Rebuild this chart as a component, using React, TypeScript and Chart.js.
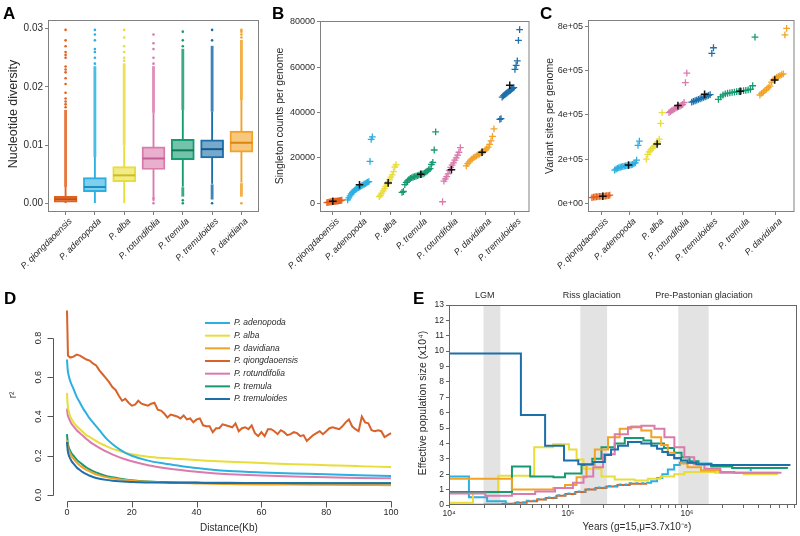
import React, { useEffect, useRef } from "react";
import { Chart, registerables } from "chart.js";

Chart.register(...registerables);

const FONT = '"Liberation Sans", Arial, Helvetica, sans-serif';
const TEXT = "#2a2a2a";
const FRAME = "#808080";
Chart.defaults.font.family = FONT;
Chart.defaults.color = TEXT;

// species colours
const C_QIONG = "#E3611E";
const C_QIONG_LD = "#D9622A";
const C_ADENO = "#2BB0E1";
const C_ALBA = "#E8DD3A";
const C_ROTUN = "#DA7BAD";
const C_TREMULA = "#169A71";
const C_TREMULOIDES = "#1D6FAA";
const C_DAVID = "#F2A227";

// ---------------- Panel A : nucleotide diversity ----------------
const diversitySpecies = ["P. qiongdaoensis", "P. adenopoda", "P. alba", "P. rotundifolia", "P. tremula", "P. tremuloides", "P. davidiana"];
const diversityColors = [C_QIONG, C_ADENO, C_ALBA, C_ROTUN, C_TREMULA, C_TREMULOIDES, C_DAVID];
const diversityMedianColors = ["#C84E10", "#1C8DBF", "#CBBE1E", "#C25E95", "#0D7A55", "#145A8C", "#DA860E"];
const diversityQ1 = [0.0002, 0.002, 0.0037, 0.0058, 0.0075, 0.0078, 0.0088];
const diversityMedian = [0.0007, 0.0028, 0.0048, 0.0077, 0.0091, 0.0093, 0.0104];
const diversityQ3 = [0.0012, 0.0044, 0.0063, 0.0097, 0.011, 0.0109, 0.0124];
const diversityWhiskerLow = [0.0, 0.0, 0.0, 0.0004, 0.0029, 0.0034, 0.0036];
const diversityWhiskerHigh = [0.0027, 0.0079, 0.0099, 0.0155, 0.016, 0.0157, 0.0177];
const diversityHighOutlierRange = [[0.0028, 0.016], [0.008, 0.0235], [0.01, 0.024], [0.0156, 0.0235], [0.0161, 0.0265], [0.0158, 0.027], [0.0178, 0.028]];
const diversityLowOutlierRange = [null, null, null, null, [0.0012, 0.0027], [0.0007, 0.0032], [0.0012, 0.0034]];
const diversityOutlierPoints = [
  [0.0165, 0.017, 0.0175, 0.018, 0.019, 0.0205, 0.0215, 0.0225, 0.023, 0.0235, 0.025, 0.0255, 0.026, 0.027, 0.028, 0.0298],
  [0.024, 0.025, 0.026, 0.0265, 0.028, 0.029, 0.0298],
  [0.0245, 0.025, 0.026, 0.027, 0.0285, 0.0298],
  [0.0, 0.0008, 0.024, 0.025, 0.0265, 0.0275, 0.029],
  [0.0, 0.0005, 0.027, 0.028, 0.0295],
  [0.0, 0.028, 0.0298],
  [0.0, 0.0285, 0.029, 0.0295, 0.0298],
];
const diversityTicks = [0, 0.01, 0.02, 0.03];

// ---------------- Panel B : singletons ----------------
const singletonSpecies = ["P. qiongdaoensis", "P. adenopoda", "P. alba", "P. tremula", "P. rotundifolia", "P. davidiana", "P. tremuloides"];
const singletonColors = [C_QIONG, C_ADENO, C_ALBA, C_TREMULA, C_ROTUN, C_DAVID, C_TREMULOIDES];
const singletonQiongdaoensis = [300, 450, 550, 650, 700, 760, 820, 870, 920, 970, 1020, 1080, 1150, 1250, 1400];
const singletonAdenopoda = [1500, 2400, 3300, 4100, 4800, 5300, 5800, 6200, 6600, 6900, 7200, 7500, 7800, 8100, 8400, 8700, 9000, 9300, 9600, 18500, 28200, 29300];
const singletonAlba = [3000, 3600, 4500, 5500, 6500, 7500, 8500, 9500, 10500, 11500, 12500, 14000, 16000, 17000];
const singletonTremula = [4800, 5200, 8200, 9200, 9900, 10500, 11000, 11300, 11600, 11800, 12000, 12200, 12400, 12600, 12800, 13000, 13300, 13700, 14200, 14800, 15300, 17200, 18000, 23500, 31500];
const singletonRotundifolia = [700, 9800, 10800, 11800, 13000, 14500, 15800, 16800, 17800, 19000, 20000, 21200, 22500, 24500];
const singletonDavidiana = [16500, 17500, 18300, 19000, 19600, 20100, 20500, 20900, 21300, 21700, 22100, 22500, 22900, 23400, 24000, 24800, 26000, 27500, 29500, 32800];
const singletonTremuloides = [37000, 37300, 46800, 47300, 47800, 48200, 48600, 49000, 49400, 49800, 50200, 50600, 51000, 59000, 60800, 62800, 71800, 76500];
const singletonMeans = [900, 8200, 9000, 12800, 14800, 22500, 52000];
const singletonTicks = [0, 20000, 40000, 60000, 80000];
// layout along the sample axis (px from panel frame)
const singletonTickX = [13, 41, 71, 102, 133, 167, 197];
const singletonSpanX = [[7, 22], [28, 53], [60, 77], [83, 117], [124, 142], [148, 176], [182, 202]];
const singletonMeanX = [13, 40, 69, 102, 133, 164, 192];

// ---------------- Panel C : variant sites ----------------
const variantSpecies = ["P. qiongdaoensis", "P. adenopoda", "P. alba", "P. rotundifolia", "P. tremuloides", "P. tremula", "P. davidiana"];
const variantColors = [C_QIONG, C_ADENO, C_ALBA, C_ROTUN, C_TREMULOIDES, C_TREMULA, C_DAVID];
const variantQiongdaoensis = [26000, 27500, 28500, 29500, 30500, 31000, 31500, 32000, 32500, 33000, 34000, 35000, 36500];
const variantAdenopoda = [150000, 155000, 158000, 161000, 163000, 165000, 166500, 168000, 169000, 170000, 171000, 172500, 174000, 176000, 179000, 183000, 195000, 262000, 281000];
const variantAlba = [200000, 221000, 233000, 241000, 248000, 255000, 262000, 270000, 278000, 290000, 362000, 410000];
const variantRotundifolia = [410000, 415000, 419000, 423000, 427000, 431000, 434000, 437000, 440000, 443000, 447000, 456000, 546000, 589000];
const variantTremuloides = [458000, 461000, 464000, 467000, 470000, 473000, 476000, 479000, 482000, 485000, 488000, 492000, 678000, 704000];
const variantTremula = [470000, 482000, 490000, 495000, 498000, 500000, 502000, 503500, 505000, 506500, 508000, 509500, 511000, 513000, 516000, 532000, 752000];
const variantDavidiana = [490000, 497000, 503000, 510000, 517000, 523000, 530000, 548000, 558000, 565000, 570000, 574000, 578000, 582000, 586000, 762000, 792000];
const variantMeans = [32000, 173000, 268000, 442000, 493000, 507000, 558000];
const variantTicks = [0, 200000, 400000, 600000, 800000];
const variantTickLabels = ["0e+00", "2e+05", "4e+05", "6e+05", "8e+05"];
const variantTickX = [14, 42, 70, 96, 125, 157, 190];
const variantSpanX = [[4, 22], [27, 52], [59, 75], [82, 100], [105, 127], [132, 169], [174, 201]];
const variantMeanX = [15, 41, 70, 91, 118, 154, 189];

// ---------------- Panel D : LD decay ----------------
const ldDistanceKb = [0, 0.2, 0.5, 1, 1.5, 2, 3, 4, 5, 6, 7, 8, 10, 12, 14, 16, 18, 20, 25, 30, 35, 40, 45, 50, 60, 70, 80, 90, 100];
const ldAdenopoda = [0.69, 0.64, 0.61, 0.58, 0.56, 0.54, 0.5, 0.47, 0.44, 0.415, 0.39, 0.37, 0.33, 0.29, 0.26, 0.235, 0.215, 0.2, 0.175, 0.16, 0.148, 0.137, 0.128, 0.122, 0.115, 0.11, 0.106, 0.1, 0.097];
const ldAlba = [0.52, 0.46, 0.43, 0.4, 0.385, 0.37, 0.35, 0.335, 0.32, 0.305, 0.295, 0.285, 0.265, 0.25, 0.235, 0.225, 0.215, 0.207, 0.195, 0.188, 0.183, 0.178, 0.173, 0.169, 0.163, 0.157, 0.152, 0.147, 0.142];
const ldDavidiana = [0.28, 0.25, 0.23, 0.21, 0.195, 0.185, 0.165, 0.15, 0.138, 0.128, 0.12, 0.112, 0.1, 0.091, 0.085, 0.08, 0.076, 0.073, 0.068, 0.064, 0.061, 0.059, 0.057, 0.056, 0.054, 0.053, 0.052, 0.051, 0.05];
const ldRotundifolia = [0.44, 0.41, 0.395, 0.375, 0.36, 0.35, 0.33, 0.315, 0.3, 0.285, 0.272, 0.26, 0.24, 0.222, 0.207, 0.193, 0.182, 0.172, 0.152, 0.138, 0.127, 0.118, 0.111, 0.106, 0.099, 0.094, 0.09, 0.087, 0.085];
const ldTremula = [0.31, 0.27, 0.245, 0.225, 0.21, 0.2, 0.18, 0.165, 0.152, 0.14, 0.13, 0.122, 0.108, 0.097, 0.09, 0.084, 0.079, 0.075, 0.069, 0.066, 0.064, 0.063, 0.062, 0.062, 0.061, 0.061, 0.06, 0.06, 0.06];
const ldTremuloides = [0.27, 0.23, 0.205, 0.185, 0.17, 0.16, 0.14, 0.127, 0.115, 0.106, 0.098, 0.092, 0.083, 0.077, 0.073, 0.07, 0.068, 0.066, 0.064, 0.063, 0.062, 0.062, 0.061, 0.061, 0.061, 0.06, 0.06, 0.06, 0.06];
const ldQiongDistanceKb = [0, 0.3, ...Array.from({ length: 100 }, (_, i) => i + 1)];
const ldQiongdaoensis = [
  0.94, 0.71,
  0.7, 0.705, 0.715, 0.71, 0.7, 0.69, 0.685, 0.67, 0.66, 0.635,
  0.615, 0.595, 0.575, 0.55, 0.535, 0.505, 0.48, 0.49, 0.47, 0.455,
  0.46, 0.48, 0.465, 0.46, 0.455, 0.465, 0.47, 0.435, 0.43, 0.415,
  0.395, 0.41, 0.405, 0.4, 0.39, 0.405, 0.385, 0.39, 0.37, 0.385,
  0.39, 0.355, 0.35, 0.35, 0.32, 0.34, 0.34, 0.36, 0.355, 0.35,
  0.345, 0.365, 0.325, 0.34, 0.345, 0.335, 0.355, 0.315, 0.3, 0.32,
  0.3, 0.335, 0.335, 0.325, 0.31, 0.33, 0.32, 0.305, 0.31, 0.32,
  0.315, 0.3, 0.305, 0.275, 0.29, 0.305, 0.315, 0.325, 0.31, 0.325,
  0.34, 0.345, 0.34, 0.335, 0.35, 0.37, 0.385, 0.35, 0.335, 0.325,
  0.4, 0.37, 0.365, 0.33, 0.325, 0.33, 0.325, 0.295, 0.305, 0.315,
];
const ldXTicks = [0, 20, 40, 60, 80, 100];
const ldYTicks = [0, 0.2, 0.4, 0.6, 0.8];

// ---------------- Panel E : PSMC ----------------
const psmcTremuloidesYears = [1e4, 40200, 64200, 92600, 122000, 163000, 204000, 230000, 263000, 319000, 413000, 501000, 560000, 620000, 690000, 780000, 890000, 1010000, 1200000, 1600000, 7400000];
const psmcTremuloidesNe = [9.85, 5.85, 3.85, 2.9, 2.65, 2.8, 3.25, 3.6, 3.85, 4.1, 4.0, 3.85, 3.65, 3.45, 3.25, 3.05, 2.9, 2.75, 2.65, 2.6, 2.6];
const psmcAlbaYears = [1e4, 15900, 25800, 52000, 75000, 102000, 118000, 135000, 191000, 247000, 363000, 469000, 600000, 780000, 950000, 1700000, 3000000, 5700000];
const psmcAlbaNe = [0.15, 0.8, 1.9, 3.75, 3.95, 3.6, 2.95, 2.35, 1.85, 1.65, 1.6, 1.7, 1.85, 2.0, 2.15, 2.1, 2.0, 1.95];
const psmcTremulaYears = [1e4, 33800, 48100, 75400, 94400, 130000, 160000, 191000, 247000, 300000, 430000, 500000, 640000, 780000, 900000, 1050000, 1250000, 1600000, 2400000, 6940000];
const psmcTremulaNe = [0.85, 2.5, 1.85, 1.8, 2.05, 2.6, 3.0, 3.75, 4.0, 4.35, 4.2, 4.0, 3.7, 3.4, 3.1, 2.85, 2.65, 2.5, 2.4, 2.35];
const psmcDavidianaYears = [1e4, 33800, 75400, 94400, 118000, 143000, 168000, 217000, 272000, 340000, 413000, 501000, 606000, 689000, 783000, 891000, 1010000, 1310000, 1920000, 5730000];
const psmcDavidianaNe = [1.7, 1.0, 1.1, 1.3, 1.8, 2.6, 3.6, 4.4, 4.95, 5.1, 4.85, 4.4, 3.9, 3.4, 3.0, 2.7, 2.45, 2.25, 2.1, 2.05];
const psmcRotundifoliaYears = [1e4, 20200, 33800, 53000, 77800, 110000, 135000, 163000, 197000, 247000, 319000, 413000, 533000, 646000, 783000, 950000, 1150000, 1400000, 1900000, 2500000, 6110000];
const psmcRotundifoliaNe = [0.75, 0.6, 0.72, 0.88, 1.1, 1.45, 1.85, 2.45, 3.3, 4.6, 5.05, 5.15, 4.95, 4.4, 3.75, 3.1, 2.65, 2.35, 2.15, 2.1, 2.05];
const psmcAdenopodaYears = [1e4, 14700, 20900, 30000, 36000, 45000, 55000, 65000, 80000, 95000, 115000, 140000, 170000, 210000, 260000, 330000, 454000, 500000, 560000, 620000, 690000, 780000, 870000, 1150000, 1600000, 2400000, 3430000];
const psmcAdenopodaNe = [1.85, 0.5, 0.25, 0.08, 0.18, 0.28, 0.38, 0.48, 0.63, 0.75, 0.88, 1.03, 1.13, 1.23, 1.33, 1.41, 1.45, 1.55, 1.75, 2.0, 2.3, 2.6, 2.75, 2.7, 2.55, 2.4, 2.2];
const psmcQiongdaoensisYears = [1e4, 20000, 28000, 36000, 45000, 55000, 65000, 80000, 95000, 115000, 140000, 170000, 210000, 260000, 330000, 454000];
const psmcQiongdaoensisNe = [0.02, 0.04, 0.08, 0.15, 0.25, 0.35, 0.45, 0.6, 0.72, 0.85, 1.0, 1.1, 1.2, 1.3, 1.38, 1.42];
const psmcGlaciationNames = ["LGM", "Riss glaciation", "Pre-Pastonian glaciation"];
const psmcGlaciationStart = [19500, 127000, 845000];
const psmcGlaciationEnd = [27000, 213000, 1520000];
const psmcGlaciationLabelAt = [20000, 158000, 1390000];
const psmcMajorTicks = [1e4, 1e5, 1e6];
const psmcMajorLabels = ["10\u2074", "10\u2075", "10\u2076"];
const psmcMinorMultipliers = [2, 3, 4, 5, 6, 7, 8, 9];
const psmcYTicks = [0, 1, 2, 3, 4, 5, 6, 7, 8, 9, 10, 11, 12, 13];

// ---------------- helpers ----------------
function rgba(hex: string, a: number) {
  const n = parseInt(hex.slice(1), 16);
  return `rgba(${(n >> 16) & 255},${(n >> 8) & 255},${n & 255},${a})`;
}
const axisGrid = { display: true, drawOnChartArea: false, drawTicks: true, tickLength: 3, color: FRAME, lineWidth: 1 };
const tickFont = { family: FONT, size: 9 };
const fixWidth = (w: number) => (s: any) => { s.width = w; s.paddingTop = 0; s.paddingBottom = 0; s.paddingLeft = 0; s.paddingRight = 0; };
const fixHeight = (h: number) => (s: any) => { s.height = h; s.paddingLeft = 0; s.paddingRight = 0; s.paddingTop = 0; s.paddingBottom = 0; };

type Label = { text: string; x: number; y: number; rot?: number; size?: number; italic?: boolean; align?: CanvasTextAlign; color?: string };
function drawLabel(ctx: CanvasRenderingContext2D, l: Label) {
  ctx.save();
  ctx.translate(l.x, l.y);
  if (l.rot) ctx.rotate(l.rot);
  ctx.font = `${l.italic ? "italic " : ""}${l.size ?? 10}px ${FONT}`;
  ctx.fillStyle = l.color ?? TEXT;
  ctx.textAlign = l.align ?? "center";
  ctx.textBaseline = "middle";
  ctx.fillText(l.text, 0, 0);
  ctx.restore();
}
const textPlugin = (labels: Label[]) => ({
  id: "texts",
  afterDraw(chart: any) { labels.forEach((l) => drawLabel(chart.ctx, l)); },
});
const framePlugin = (color: string) => ({
  id: "frame",
  afterDatasetsDraw(chart: any) {
    const { ctx, chartArea: a } = chart;
    ctx.save();
    ctx.strokeStyle = color;
    ctx.lineWidth = 1;
    ctx.strokeRect(a.left + 0.5, a.top + 0.5, a.right - a.left - 1, a.bottom - a.top - 1);
    ctx.restore();
  },
});
const baseOptions = {
  animation: false,
  responsive: false,
  maintainAspectRatio: false,
  devicePixelRatio: 1,
  events: [],
  plugins: { legend: { display: false }, tooltip: { enabled: false } },
};

// ---------------- builders ----------------
function buildDiversity() {
  const idx = diversitySpecies.map((_, i) => i);
  const datasets: any[] = [];
  diversityOutlierPoints.forEach((vals, i) => {
    datasets.push({
      type: "line", showLine: false, data: vals.map((v) => ({ x: i, y: v })),
      pointRadius: 1.3, pointBorderWidth: 0, pointBackgroundColor: diversityColors[i], order: 0,
    });
  });
  const rangeSet = (ranges: any[], thick: number, order: number, alpha: number) => ({
    type: "bar",
    data: ranges.map((r, i) => (r ? { x: i, y: r } : null)).filter(Boolean),
    backgroundColor: (c: any) => rgba(diversityColors[c.raw ? c.raw.x : 0], alpha),
    borderWidth: 0, barThickness: thick, grouped: false, order,
  });
  datasets.push(rangeSet(diversityHighOutlierRange, 2.2, 0, 0.85));
  datasets.push(rangeSet(diversityLowOutlierRange, 2.2, 0, 0.85));
  datasets.push(rangeSet(idx.map((i) => [diversityWhiskerLow[i], diversityQ1[i]]), 1.2, 2, 1));
  datasets.push(rangeSet(idx.map((i) => [diversityQ3[i], diversityWhiskerHigh[i]]), 1.2, 2, 1));
  datasets.push({
    type: "bar",
    data: idx.map((i) => ({ x: i, y: [diversityQ1[i], diversityQ3[i]] })),
    backgroundColor: diversityColors.map((c) => rgba(c, 0.6)),
    borderColor: diversityColors, borderWidth: 1.3, borderSkipped: false,
    barThickness: 23, grouped: false, order: 1,
  });
  const medianPlugin = {
    id: "medians",
    afterDatasetsDraw(chart: any) {
      const { ctx, scales } = chart;
      diversityMedian.forEach((m, i) => {
        const px = scales.x.getPixelForValue(i);
        const py = scales.y.getPixelForValue(m);
        ctx.save();
        ctx.strokeStyle = diversityMedianColors[i];
        ctx.lineWidth = 2;
        ctx.beginPath();
        ctx.moveTo(px - 11, py);
        ctx.lineTo(px + 11, py);
        ctx.stroke();
        ctx.restore();
      });
    },
  };
  return {
    type: "bar",
    data: { datasets },
    options: {
      ...baseOptions,
      layout: { padding: { left: 0, right: 11, top: 20, bottom: 0 } },
      scales: {
        x: {
          type: "linear", min: -0.6, max: 6.6, offset: false,
          grid: { ...axisGrid, offset: false }, border: { display: false },
          afterBuildTicks: (s: any) => { s.ticks = idx.map((v) => ({ value: v })); },
          ticks: { autoSkip: false, minRotation: 45, maxRotation: 45, padding: 1, labelOffset: 5, font: { ...tickFont, style: "italic" }, color: TEXT, callback: (_v: any, i: number) => diversitySpecies[i] },
          afterFit: fixHeight(78),
        },
        y: {
          type: "linear", min: -0.0015, max: 0.0315,
          grid: axisGrid, border: { display: false },
          afterBuildTicks: (s: any) => { s.ticks = diversityTicks.map((v) => ({ value: v })); },
          ticks: { padding: 2, font: { ...tickFont, size: 10 }, color: TEXT, callback: (v: number) => v.toFixed(2) },
          afterFit: fixWidth(48),
        },
      },
    },
    plugins: [medianPlugin, framePlugin(FRAME), textPlugin([{ text: "Nucleotide diversity", x: 14, y: 114, rot: -Math.PI / 2, size: 12.5 }])],
  };
}

function buildGenomeScatter(cfg: any) {
  const { groups, colors, spans, tickX, meanX, means, labels, xMax, yMin, yMax, yTicks, yFmt, yAxisW, padTop, padRight, title, titleX } = cfg;
  const datasets: any[] = groups.map((vals: number[], g: number) => ({
    data: vals.map((v, k) => ({ x: spans[g][0] + (spans[g][1] - spans[g][0]) * (vals.length > 1 ? k / (vals.length - 1) : 0.5), y: v })),
    pointStyle: "cross", pointRadius: 3.4, pointBorderWidth: 1.3,
    borderColor: colors[g], backgroundColor: colors[g], pointBorderColor: colors[g], order: 1,
  }));
  datasets.unshift({
    data: means.map((m: number, g: number) => ({ x: meanX[g], y: m })),
    pointStyle: "cross", pointRadius: 3.8, pointBorderWidth: 1.5,
    borderColor: "#111", backgroundColor: "#111", pointBorderColor: "#111", order: 0,
  });
  return {
    type: "scatter",
    data: { datasets },
    options: {
      ...baseOptions,
      layout: { padding: { left: 0, right: padRight, top: padTop, bottom: 0 } },
      scales: {
        x: {
          type: "linear", min: 0, max: xMax,
          grid: axisGrid, border: { display: false },
          afterBuildTicks: (s: any) => { s.ticks = tickX.map((v: number) => ({ value: v })); },
          ticks: { autoSkip: false, minRotation: 45, maxRotation: 45, padding: 1, labelOffset: 5, font: { ...tickFont, style: "italic" }, color: TEXT, callback: (_v: any, i: number) => labels[i] },
          afterFit: fixHeight(78),
        },
        y: {
          type: "linear", min: yMin, max: yMax,
          grid: axisGrid, border: { display: false },
          afterBuildTicks: (s: any) => { s.ticks = yTicks.map((v: number) => ({ value: v })); },
          ticks: { padding: 2, font: tickFont, color: TEXT, callback: (v: number, i: number) => yFmt(v, i) },
          afterFit: fixWidth(yAxisW),
        },
      },
    },
    plugins: [framePlugin(FRAME), textPlugin([{ text: title, x: titleX, y: 116, rot: -Math.PI / 2, size: 10.5 }])],
  };
}

const buildSingletons = () =>
  buildGenomeScatter({
    groups: [singletonQiongdaoensis, singletonAdenopoda, singletonAlba, singletonTremula, singletonRotundifolia, singletonDavidiana, singletonTremuloides],
    colors: singletonColors, spans: singletonSpanX, tickX: singletonTickX, meanX: singletonMeanX, means: singletonMeans,
    labels: singletonSpecies, xMax: 212, yMin: -3825, yMax: 80325, yTicks: singletonTicks,
    yFmt: (v: number) => String(v), yAxisW: 50, padTop: 21, padRight: 3,
    title: "Singleton counts per genome", titleX: 10,
  });

const buildVariants = () =>
  buildGenomeScatter({
    groups: [variantQiongdaoensis, variantAdenopoda, variantAlba, variantRotundifolia, variantTremuloides, variantTremula, variantDavidiana],
    colors: variantColors, spans: variantSpanX, tickX: variantTickX, meanX: variantMeanX, means: variantMeans,
    labels: variantSpecies, xMax: 209, yMin: -39500, yMax: 829500, yTicks: variantTicks,
    yFmt: (_v: number, i: number) => variantTickLabels[i], yAxisW: 53, padTop: 20, padRight: 3,
    title: "Variant sites per genome", titleX: 15,
  });

function buildLD() {
  const series = [
    { label: "P. qiongdaoensis", xs: ldQiongDistanceKb, ys: ldQiongdaoensis, color: C_QIONG_LD, smooth: false },
    { label: "P. adenopoda", xs: ldDistanceKb, ys: ldAdenopoda, color: C_ADENO, smooth: true },
    { label: "P. alba", xs: ldDistanceKb, ys: ldAlba, color: C_ALBA, smooth: true },
    { label: "P. rotundifolia", xs: ldDistanceKb, ys: ldRotundifolia, color: C_ROTUN, smooth: true },
    { label: "P. tremuloides", xs: ldDistanceKb, ys: ldTremuloides, color: C_TREMULOIDES, smooth: true },
    { label: "P. davidiana", xs: ldDistanceKb, ys: ldDavidiana, color: C_DAVID, smooth: true },
    { label: "P. tremula", xs: ldDistanceKb, ys: ldTremula, color: C_TREMULA, smooth: true },
  ];
  const legendOrder = ["P. adenopoda", "P. alba", "P. davidiana", "P. qiongdaoensis", "P. rotundifolia", "P. tremula", "P. tremuloides"];
  const datasets = series.map((s, k) => ({
    label: s.label,
    data: s.xs.map((x, i) => ({ x, y: s.ys[i] })),
    borderColor: s.color, borderWidth: 2, pointRadius: 0, fill: false,
    cubicInterpolationMode: s.smooth ? "monotone" : "default", tension: 0, order: k,
  }));
  const axesPlugin = {
    id: "baseAxes",
    afterDraw(chart: any) {
      const { ctx, chartArea: a, scales } = chart;
      const xs = scales.x, ys = scales.y;
      ctx.save();
      ctx.strokeStyle = "#555";
      ctx.lineWidth = 1;
      const yx = a.left + 0.5;
      ctx.beginPath();
      ctx.moveTo(yx, Math.round(ys.getPixelForValue(0)) + 0.5);
      ctx.lineTo(yx, Math.round(ys.getPixelForValue(0.8)) + 0.5);
      ldYTicks.forEach((v) => {
        const py = Math.round(ys.getPixelForValue(v)) + 0.5;
        ctx.moveTo(yx - 6, py);
        ctx.lineTo(yx, py);
      });
      const xy = a.bottom - 0.5;
      ctx.moveTo(Math.round(xs.getPixelForValue(0)) + 0.5, xy);
      ctx.lineTo(Math.round(xs.getPixelForValue(100)) + 0.5, xy);
      ldXTicks.forEach((v) => {
        const px = Math.round(xs.getPixelForValue(v)) + 0.5;
        ctx.moveTo(px, xy);
        ctx.lineTo(px, xy + 6);
      });
      ctx.stroke();
      ctx.restore();
      ldYTicks.forEach((v) => drawLabel(ctx, { text: v.toFixed(1), x: yx - 15, y: ys.getPixelForValue(v), rot: -Math.PI / 2, size: 9 }));
      ldXTicks.forEach((v) => drawLabel(ctx, { text: String(v), x: xs.getPixelForValue(v), y: xy + 11, size: 9 }));
      // legend
      legendOrder.forEach((name, k) => {
        const s = series.find((q) => q.label === name)!;
        const y = 43 + k * 12.67;
        ctx.save();
        ctx.strokeStyle = s.color;
        ctx.lineWidth = 2;
        ctx.beginPath();
        ctx.moveTo(205, y);
        ctx.lineTo(230, y);
        ctx.stroke();
        ctx.restore();
        drawLabel(ctx, { text: name, x: 234, y, size: 8.5, italic: true, align: "left" });
      });
    },
  };
  return {
    type: "line",
    data: { datasets },
    options: {
      ...baseOptions,
      layout: { padding: { left: 53, right: 5, top: 23, bottom: 34 } },
      scales: {
        x: { type: "linear", display: false, min: -4.32, max: 104.32 },
        y: { type: "linear", display: false, min: -0.0357, max: 0.978 },
      },
    },
    plugins: [axesPlugin, textPlugin([
      { text: "Distance(Kb)", x: 229, y: 248, size: 10 },
      { text: "r\u00B2", x: 13, y: 115, rot: -Math.PI / 2, size: 10 },
    ])],
  };
}

function buildPSMC() {
  const series: any[] = [
    [psmcTremuloidesYears, psmcTremuloidesNe, C_TREMULOIDES],
    [psmcRotundifoliaYears, psmcRotundifoliaNe, C_ROTUN],
    [psmcDavidianaYears, psmcDavidianaNe, C_DAVID],
    [psmcTremulaYears, psmcTremulaNe, C_TREMULA],
    [psmcAlbaYears, psmcAlbaNe, C_ALBA],
    [psmcAdenopodaYears, psmcAdenopodaNe, C_ADENO],
    [psmcQiongdaoensisYears, psmcQiongdaoensisNe, C_QIONG],
  ];
  const datasets = series.map(([xs, ys, col]: any, k: number) => ({
    data: xs.map((x: number, i: number) => ({ x, y: ys[i] })),
    borderColor: col, borderWidth: 2, pointRadius: 0, stepped: true, fill: false, order: k,
    segment: col === C_ADENO ? { borderDash: (c: any) => (c.p0.parsed.x >= 29000 && c.p1.parsed.x <= 460000 ? [3, 3] : undefined) } : undefined,
  }));
  const allXTicks = [...psmcMajorTicks, ...psmcMajorTicks.flatMap((m) => psmcMinorMultipliers.map((k) => m * k))].filter((v) => v <= 8.4e6).sort((a, b) => a - b);
  const bandsPlugin = {
    id: "bands",
    beforeDatasetsDraw(chart: any) {
      const { ctx, chartArea: a, scales } = chart;
      ctx.save();
      ctx.fillStyle = "rgba(200,200,200,0.5)";
      psmcGlaciationStart.forEach((s, i) => {
        const x0 = scales.x.getPixelForValue(s);
        const x1 = scales.x.getPixelForValue(psmcGlaciationEnd[i]);
        ctx.fillRect(x0, a.top, x1 - x0, a.bottom - a.top);
      });
      ctx.restore();
    },
    afterDraw(chart: any) {
      const { ctx, chartArea: a, scales } = chart;
      psmcGlaciationNames.forEach((n, i) => drawLabel(ctx, { text: n, x: scales.x.getPixelForValue(psmcGlaciationLabelAt[i]), y: a.top - 9, size: 9 }));
    },
  };
  return {
    type: "line",
    data: { datasets },
    options: {
      ...baseOptions,
      layout: { padding: { left: 0, right: 3, top: 25, bottom: 0 } },
      scales: {
        x: {
          type: "logarithmic", min: 1e4, max: 8.4e6,
          grid: { ...axisGrid, color: "#666" }, border: { display: false },
          afterBuildTicks: (s: any) => { s.ticks = allXTicks.map((v) => ({ value: v })); },
          ticks: {
            autoSkip: false, minRotation: 0, maxRotation: 0, padding: 1, font: { ...tickFont, size: 8.5 }, color: TEXT,
            callback: (v: number) => { const k = psmcMajorTicks.indexOf(v); return k >= 0 ? psmcMajorLabels[k] : ""; },
          },
          afterFit: fixHeight(31),
        },
        y: {
          type: "linear", min: 0, max: 13,
          grid: { ...axisGrid, color: "#666" }, border: { display: false },
          afterBuildTicks: (s: any) => { s.ticks = psmcYTicks.map((v) => ({ value: v })); },
          ticks: { padding: 2, font: { ...tickFont, size: 8.5 }, color: TEXT, callback: (v: number) => String(v) },
          afterFit: fixWidth(49),
        },
      },
    },
    plugins: [bandsPlugin, framePlugin("#666"), textPlugin([
      { text: "Effective population size (x10\u2074)", x: 23, y: 123, rot: -Math.PI / 2, size: 10.5 },
      { text: "Years (g=15,\u03BC=3.7x10\u207B\u2078)", x: 237, y: 247, size: 10 },
    ])],
  };
}

// ---------------- components ----------------
function ChartCanvas({ x, y, w, h, build }: { x: number; y: number; w: number; h: number; build: () => any }) {
  const ref = useRef<HTMLCanvasElement>(null);
  useEffect(() => {
    const chart = new Chart(ref.current as HTMLCanvasElement, build());
    return () => chart.destroy();
  }, []);
  return <canvas ref={ref} width={w} height={h} style={{ position: "absolute", left: x, top: y, width: w, height: h }} />;
}

const panelLetters: [string, number, number][] = [["A", 3, 5], ["B", 272, 5], ["C", 540, 5], ["D", 4, 290], ["E", 413, 290]];

export default function App() {
  return (
    <div style={{ position: "absolute", left: 0, top: 0, width: 800, height: 536, background: "#fff", overflow: "hidden", fontFamily: FONT }}>
      <ChartCanvas x={0} y={0} w={270} h={290} build={buildDiversity} />
      <ChartCanvas x={270} y={0} w={265} h={290} build={buildSingletons} />
      <ChartCanvas x={535} y={0} w={265} h={290} build={buildVariants} />
      <ChartCanvas x={0} y={280} w={410} h={256} build={buildLD} />
      <ChartCanvas x={400} y={280} w={400} h={256} build={buildPSMC} />
      {panelLetters.map(([t, x, y]) => (
        <div key={t} style={{ position: "absolute", left: x, top: y, fontSize: 17, lineHeight: "17px", fontWeight: "bold", color: "#000", fontFamily: FONT }}>{t}</div>
      ))}
    </div>
  );
}
